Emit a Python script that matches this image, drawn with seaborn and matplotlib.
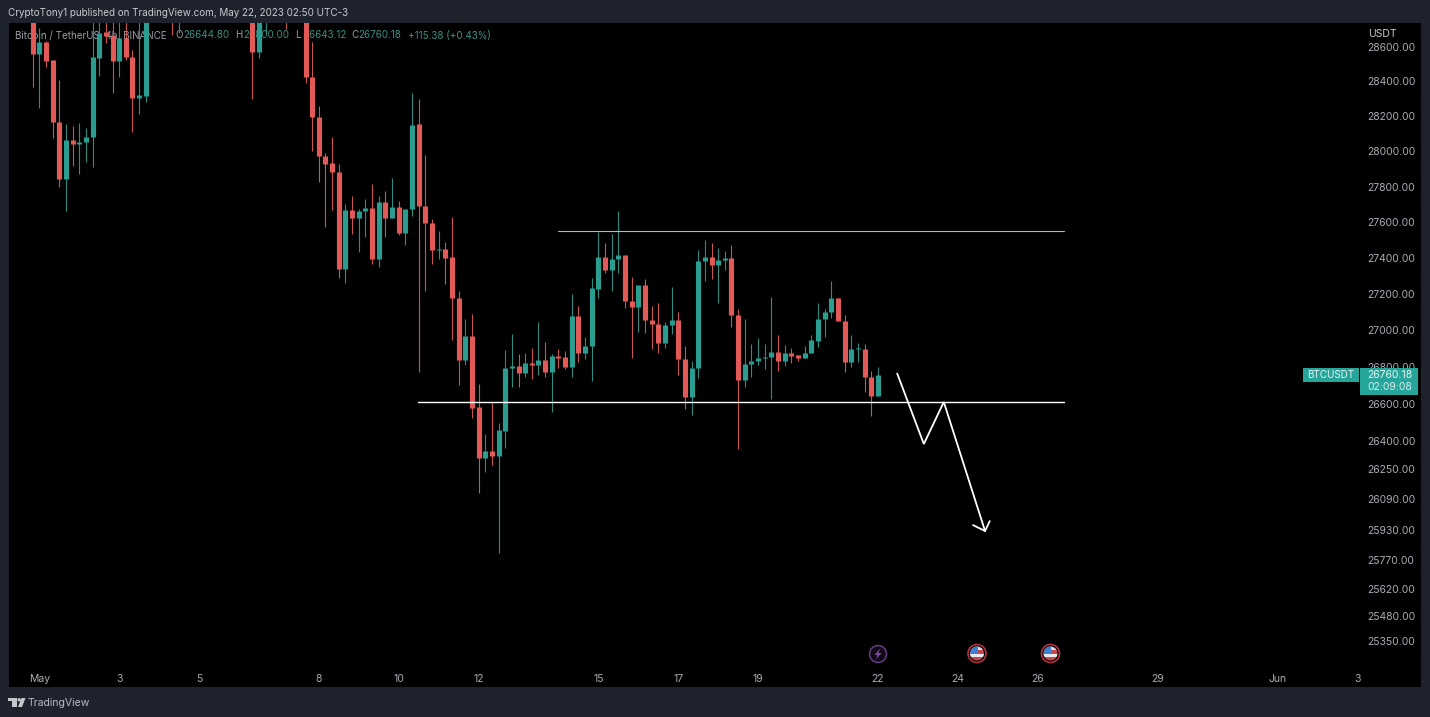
import numpy as np
import pandas as pd
import matplotlib
matplotlib.use('Agg')
import matplotlib.pyplot as plt
import seaborn as sns
from matplotlib.patches import Circle, Rectangle, Polygon
from matplotlib.ticker import NullLocator

# BTCUSDT 4h candles, bar 0 = May 1 (bars above the visible range are left out)
bars = [-1, 0, 1, 2, 3, 4, 5, 6, 7, 8, 9, 10, 11, 12, 13, 14, 15, 16, 20, 21,
        32, 33, 34, 37, 40, 41, 42, 43, 44, 45, 46, 47, 48, 49, 50, 51, 52, 53, 54, 55,
        56, 57, 58, 59, 60, 61, 62, 63, 64, 65, 66, 67, 68, 69, 70, 71, 72, 73, 74, 75,
        76, 77, 78, 79, 80, 81, 82, 83, 84, 85, 86, 87, 88, 89, 90, 91, 92, 93, 94, 95,
        96, 97, 98, 99, 100, 101, 102, 103, 104, 105, 106, 107, 108, 109, 110, 111, 112,
        113, 114, 115, 116, 117, 118, 119, 120, 121, 122, 123, 124, 125, 126]
opens = [28780, 28558, 28628, 28523, 28167, 27843, 28064, 28041, 28052, 28081, 28535, 28686, 28668, 28517, 28651, 28541, 28304, 28316, 28950, 28860,
         28800, 28570, 28850, 28950, 28800, 28425, 28195, 27973, 27934, 27883, 27339, 27668, 27623, 27663, 27680, 27395, 27713, 27623, 27685, 27540,
         27674, 28155, 27691, 27596, 27445, 27450, 27406, 27179, 26839, 26970, 26584, 26310, 26347, 26320, 26454, 26795, 26806, 26768, 26822, 26812,
         26839, 26774, 26860, 26855, 26801, 27080, 26877, 26915, 27228, 27406, 27333, 27395, 27417, 27162, 27129, 27250, 27058, 27036, 26932, 27030,
         27058, 26844, 26638, 26795, 27384, 27406, 27361, 27389, 27400, 27085, 26730, 26817, 26833, 26850, 26855, 26882, 26833,
         26877, 26866, 26850, 26877, 26942, 27063, 27102, 27179, 27052, 26828, 26899, 26899, 26746, 26643]
highs = [28900, 28709, 28633, 28523, 28408, 28155, 28144, 28161, 28132, 28800, 28800, 28800, 28800, 28800, 28800, 28581, 28800, 28900, 29000, 29000,
         28900, 28900, 29000, 29000, 28900, 28628, 28258, 27990, 28081, 27928, 27702, 27747, 27674, 27730, 27815, 27747, 27775, 27849, 27719, 27674,
         28333, 28298, 27979, 27618, 27551, 27489, 27629, 27217, 27063, 27090, 26708, 26438, 26611, 26497, 26893, 26981, 26871, 26877, 26904, 27047,
         26937, 26871, 26899, 26888, 27201, 27135, 26964, 27289, 27545, 27484, 27534, 27663, 27417, 27295, 27250, 27284, 27135, 27151, 27047, 27239,
         27102, 26915, 26833, 27445, 27500, 27484, 27456, 27439, 27472, 27118, 27063, 26926, 26959, 26926, 27184, 26975, 26921,
         26904, 26866, 26915, 26975, 27151, 27118, 27273, 27179, 27085, 26975, 26932, 26926, 26779, 26801]
lows = [28367, 28247, 28483, 28075, 27798, 27663, 27917, 27871, 27939, 27911, 28431, 28622, 28333, 28425, 28523, 28109, 28212, 28281, 28668, 28680,
        28298, 28535, 28680, 28703, 28390, 28002, 27826, 27573, 27668, 27289, 27262, 27534, 27433, 27517, 27367, 27350, 27517, 27623, 27528, 27472,
        27635, 26774, 27217, 27367, 27395, 27256, 26948, 26703, 26812, 26524, 26124, 26235, 26273, 25807, 26364, 26692, 26692, 26746, 26735, 26757,
        26746, 26557, 26795, 26790, 26746, 26828, 26844, 26725, 27179, 27317, 27217, 27317, 27124, 26850, 26992, 26986, 26899, 26877, 26904, 26981,
        26757, 26573, 26541, 26741, 27273, 27284, 27151, 27333, 27019, 26358, 26692, 26746, 26812, 26790, 26627, 26779, 26806,
        26822, 26833, 26850, 26877, 26910, 26964, 27069, 27052, 26774, 26801, 26828, 26665, 26535, 26643]
closes = [28558, 28628, 28517, 28167, 27843, 28064, 28041, 28052, 28081, 28541, 28680, 28662, 28517, 28651, 28541, 28304, 28321, 28800, 28860, 28950,
          28570, 28800, 28950, 28850, 28425, 28195, 27973, 27928, 27883, 27339, 27668, 27623, 27663, 27680, 27395, 27713, 27623, 27685, 27540, 27674,
          28149, 27691, 27596, 27445, 27450, 27400, 27179, 26839, 26970, 26578, 26310, 26347, 26320, 26459, 26795, 26806, 26768, 26822, 26812, 26839,
          26774, 26860, 26850, 26801, 27080, 26877, 26915, 27234, 27406, 27333, 27395, 27417, 27162, 27129, 27250, 27058, 27036, 26932, 27030, 27058,
          26844, 26638, 26795, 27384, 27406, 27361, 27389, 27400, 27085, 26730, 26817, 26833, 26850, 26855, 26882, 26833, 26877,
          26860, 26850, 26877, 26948, 27063, 27102, 27179, 27052, 26828, 26899, 26904, 26746, 26643, 26757]

price_ticks = [28600, 28400, 28200, 28000, 27800, 27600, 27400, 27200, 27000, 26800, 26600,
               26400, 26250, 26090, 25930, 25770, 25620, 25480, 25350]
date_ticks = [0, 12, 24, 42, 54, 66, 84, 96, 108, 126, 138, 150, 168, 186, 198]
date_labels = ['May', '3', '5', '8', '10', '12', '15', '17', '19', '22', '24', '26', '29', 'Jun', '3']

# drawings on the chart
resistance_bars = [77.9, 154]
resistance_prices = [27550, 27550]
support_bars = [56.9, 154]
support_prices = [26612, 26612]
arrow_bars = [128.9, 132.9, 135.9, 142.1]
arrow_prices = [26765, 26385, 26611, 25923]
head_bars = [140.3, 142.1, 142.8]
head_prices = [25954, 25923, 25975]

FRAME = '#1e222d'
UP = '#2a9d90'
DOWN = '#e25a58'
UP_WICK = '#2f8a80'
DOWN_WICK = '#c85552'
TEXT = '#a9acb4'
TEAL = '#26a69a'

sns.set_style('dark')
plt.rcParams['font.family'] = ['Inter', 'DejaVu Sans']

W, H = 1430, 717
fig = plt.figure(figsize=(W / 100, H / 100), dpi=100, facecolor=FRAME)


def pixel_axes(z):
    a = fig.add_axes([0, 0, 1, 1], zorder=z)
    a.set_xlim(0, W)
    a.set_ylim(H, 0)
    a.axis('off')
    return a


# panel and legend sit under the candles, the price tag on top
back = pixel_axes(0)
back.add_patch(Rectangle((9, 23), 1412, 664, color='black', lw=0))
front = pixel_axes(2)

ax = fig.add_axes([9 / W, (H - 687) / H, 1412 / W, 664 / H], zorder=1)
ax.patch.set_alpha(0)
ax.set_yscale('log')

df = pd.DataFrame({'bar': bars, 'open': opens, 'high': highs, 'low': lows, 'close': closes})
df['direction'] = np.where(df['close'] >= df['open'], 'up', 'down')

wicks = df.melt(id_vars=['bar', 'direction'], value_vars=['high', 'low'], value_name='price')
bodies = df.melt(id_vars=['bar', 'direction'], value_vars=['open', 'close'], value_name='price')

sns.lineplot(data=wicks, x='bar', y='price', hue='direction', units='bar', estimator=None,
             palette={'up': UP_WICK, 'down': DOWN_WICK}, linewidth=0.8, solid_capstyle='butt',
             legend=False, ax=ax, zorder=3)
sns.lineplot(data=bodies, x='bar', y='price', hue='direction', units='bar', estimator=None,
             palette={'up': UP, 'down': DOWN}, linewidth=3.7, solid_capstyle='butt',
             legend=False, ax=ax, zorder=4)

# trend lines and the projected path
sns.lineplot(x=resistance_bars, y=resistance_prices, color='#b4b6b8', linewidth=0.8, ax=ax, zorder=5)
sns.lineplot(x=support_bars, y=support_prices, color='white', linewidth=1.0, ax=ax, zorder=5)
ax.plot(arrow_bars, arrow_prices, color='white', linewidth=1.3, zorder=5, solid_joinstyle='miter')
ax.plot(head_bars, head_prices, color='white', linewidth=1.3, zorder=5, solid_joinstyle='miter')

ax.set_xlim(-4.553, 207.6)
ax.set_ylim(25115, 28739)
ax.yaxis.tick_right()
ax.set_yticks(price_ticks)
ax.set_yticklabels([f'{p:.2f}' for p in price_ticks])
ax.yaxis.set_minor_locator(NullLocator())
ax.set_xticks(date_ticks)
ax.set_xticklabels(date_labels)
ax.tick_params(axis='y', length=0, pad=-39, labelsize=7.5, labelcolor=TEXT)
ax.tick_params(axis='x', length=0, pad=-9.5, labelsize=7.5, labelcolor=TEXT)
ax.set_xlabel('')
ax.set_ylabel('')
ax.grid(False)
for s in ax.spines.values():
    s.set_visible(False)

# header and footer
back.text(8, 13, 'CryptoTony1 published on TradingView.com, May 22, 2023 02:50 UTC-3',
          color='#c8cad0', fontsize=7.1, va='center')
back.text(1368, 34, 'USDT', color='#c8cad0', fontsize=7.5, va='center')
back.text(28, 703, 'TradingView', color='#b8bbc3', fontsize=7.55, va='center')

legend_parts = [(15, 'Bitcoin / TetherUS, 4h, BINANCE', '#9a9da5'), (175, 'O', '#9a9da5'),
                (183, '26644.80', '#3d8f85'), (235, 'H', '#9a9da5'), (243, '26800.00', '#3d8f85'),
                (295, 'L', '#9a9da5'), (303, '26643.12', '#3d8f85'), (351, 'C', '#9a9da5'),
                (358, '26760.18', '#3d8f85'), (408, '+115.38 (+0.43%)', '#3d8f85')]
for x, s, c in legend_parts:
    back.text(x, 35.5, s, color=c, fontsize=7.05, va='center')

# TradingView logo
back.add_patch(Polygon([(8, 698), (17, 698), (17, 707), (12, 707), (12, 701), (8, 701)], color='#c4c7cd', lw=0))
back.add_patch(Circle((19.2, 699.8), 1.7, color='#c4c7cd', lw=0))
back.add_patch(Polygon([(21.5, 698), (25.5, 698), (22, 707), (18, 707)], color='#c4c7cd', lw=0))

# last price tag
front.add_patch(Rectangle((1303, 368), 56, 14, color=TEAL, lw=0))
front.add_patch(Rectangle((1360, 368), 58, 26.5, color=TEAL, lw=0))
front.text(1331, 375, 'BTCUSDT', color='#e6f4f2', fontsize=7.1, ha='center', va='center')
front.text(1367, 375, '26760.18', color='#e6f4f2', fontsize=7.5, va='center')
front.text(1367, 386.5, '02:09:08', color='#d5ecea', fontsize=7.5, va='center')

# event markers
back.add_patch(Circle((878, 654), 8.5, fc='#120a18', ec='#6b3f8c', lw=1.0))
back.add_patch(Polygon([(880, 648.5), (874.5, 655), (877.5, 655), (876, 659.5), (881.5, 653), (878.5, 653)],
                       color='#7a4aa0', lw=0))
for cx in [977, 1050.5]:
    back.add_patch(Circle((cx, 653.5), 9, fc='black', ec='#b5323f', lw=1.2))
    disc = Circle((cx, 653.5), 7, transform=back.transData)
    for i, c in enumerate(['#d9dde6', '#c8464f', '#e8e8ec', '#c8464f']):
        r = Rectangle((cx - 7.5, 646 + i * 3.75), 15, 3.75, color=c, lw=0)
        back.add_patch(r)
        r.set_clip_path(disc)
    r = Rectangle((cx - 7.5, 646), 8, 8, color='#3f7fcf', lw=0)
    back.add_patch(r)
    r.set_clip_path(disc)

fig.savefig('out.png', dpi=100, facecolor=FRAME)
